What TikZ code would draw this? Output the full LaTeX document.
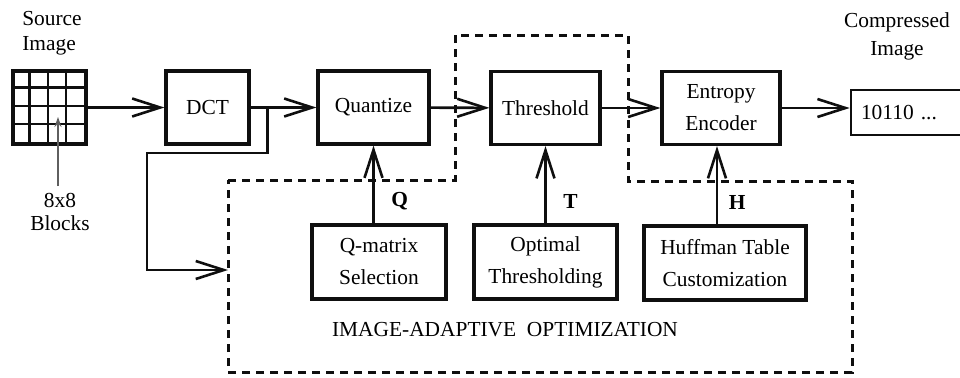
\documentclass[tikz,border=0pt]{standalone}
\usepackage{fontspec}
\setmainfont{Liberation Serif}
\usepackage{tikz}
\usetikzlibrary{calc,arrows.meta,positioning}
\definecolor{inkBlack}{RGB}{15,15,15}
\definecolor{pointerGray}{RGB}{95,95,95}

\begin{document}
\begin{tikzpicture}[x=0.5pt,y=-0.5pt,
  font=\fontsize{10.7}{16}\selectfont,
  blockBox/.style={draw=inkBlack, line width=1.6pt, minimum width=#1, minimum height=36.5pt, align=center, inner sep=2pt},
  flowArrow/.style={draw=inkBlack, line width=1.3pt, -{Straight Barb[length=14pt,width=9pt]}},
  dashRegion/.style={draw=inkBlack, line width=1.5pt, dash pattern=on 4pt off 3pt},
  tagLabel/.style={font=\fontsize{10.7}{12}\selectfont\bfseries}]
\useasboundingbox (0,0) rectangle (960,377);
\node[draw=inkBlack, line width=1.6pt, minimum size=36.5pt, inner sep=0pt] (src) at (49.5,107.5) {};
\foreach \k in {1,2,3} {
  \draw[inkBlack, line width=1.2pt] ($(src.north west)+(\k*18.25,0)$) -- ($(src.south west)+(\k*18.25,0)$);
  \draw[inkBlack, line width=1.2pt] ($(src.north west)+(0,\k*18.25)$) -- ($(src.north east)+(0,\k*18.25)$);
}
\node[align=left, font=\fontsize{10.7}{12.5}\selectfont] (srcLabel) at (52,33) {Source\\Image};
\node[align=center, font=\fontsize{10.7}{11.5}\selectfont] (blocks) at (60,212) {8x8\\Blocks};
\coordinate (blockTip) at (58,117);
\draw[pointerGray, line width=0.9pt, -{Stealth[length=5pt,width=3.5pt]}] (blocks.north -| blockTip) -- (blockTip);

\node[blockBox=41.5pt] (dct) at (207.5,107.5) {DCT};
\node[blockBox=55.5pt] (quant) at (373.5,107.5) {Quantize};
\node[blockBox=54.5pt] (thresh) at (545.5,108) {Threshold};
\node[blockBox=59pt] (entropy) at (721,108) {Entropy\\Encoder};
\node[blockBox=57pt, minimum height=22.5pt, line width=1.3pt, text width=47pt, align=left, inner xsep=5pt] (out) at (908,112.5) {10110 ...};
\node[align=center, font=\fontsize{10.7}{14}\selectfont] (outLabel) at (897,36) {Compressed\\Image};

\node[blockBox=67pt, minimum height=37pt] (qsel) at (379,262) {Q-matrix\\Selection};
\node[blockBox=71.5pt, minimum height=37pt] (optT) at (545.5,262) {Optimal\\Thresholding};
\node[blockBox=81pt, minimum height=37pt] (huff) at (725,263) {Huffman Table\\Customization};

\draw[dashRegion] (228,180) -- (455,180) -- (455,35) -- (628,35) -- (628,181) -- (852,181) -- (852,372) -- (228,372) -- cycle;
\node (optLabel) at (505,330) {IMAGE-ADAPTIVE\ \ OPTIMIZATION};

\draw[flowArrow] (src) -- (dct);
\draw[flowArrow] (dct) -- (quant);
\draw[flowArrow] (quant) -- (thresh);
\draw[flowArrow] (thresh) -- (entropy);
\draw[flowArrow] (entropy) -- (out.west |- entropy);
\coordinate (tap) at ($(dct.east)+(17,0)$);
\coordinate (optIn) at (228,270);
\draw[flowArrow] (tap) |- (147,153) |- (optIn);

\draw[flowArrow] (qsel.north -| quant.south) -- node[tagLabel, pos=0.28, right=5pt] {Q} (quant.south);
\draw[flowArrow] (optT.north -| thresh.south) -- node[tagLabel, pos=0.28, right=5pt] {T} (thresh.south);
\coordinate (hTap) at ($(entropy.south)+(-4,0)$);
\draw[flowArrow] (huff.north -| hTap) -- node[tagLabel, pos=0.28, right=2pt] {H} (hTap);
\end{tikzpicture}
\end{document}
